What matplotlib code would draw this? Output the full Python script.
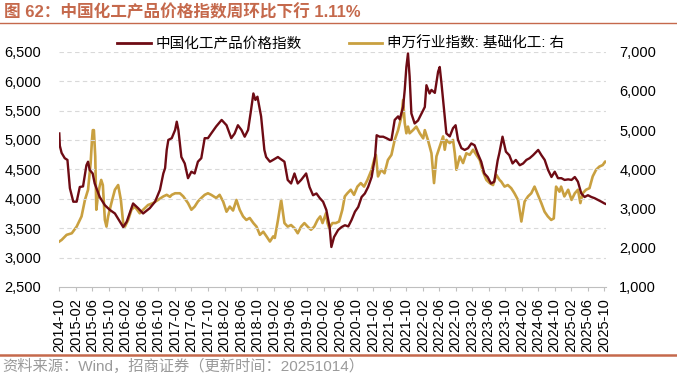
import matplotlib
matplotlib.use("Agg")
import matplotlib.pyplot as plt
import matplotlib.dates as mdates
from matplotlib.ticker import FuncFormatter
from matplotlib.lines import Line2D
import pandas as pd

plt.rcParams['font.family'] = ['Liberation Sans', 'Noto Sans CJK SC', 'DejaVu Sans']

# 中国化工产品价格指数（左轴）
chem_dates = [
    '2014-10-01', '2014-10-05', '2014-10-18', '2014-11-10', '2014-11-30', '2014-12-18',
    '2015-01-12', '2015-02-06', '2015-03-01', '2015-03-25', '2015-04-19', '2015-05-01',
    '2015-05-13', '2015-06-04', '2015-06-19', '2015-07-26', '2015-09-02', '2015-10-09',
    '2015-11-15', '2015-12-22', '2016-01-15', '2016-02-10', '2016-03-28', '2016-05-04',
    '2016-06-10', '2016-07-29', '2016-09-06', '2016-10-12', '2016-11-06', '2016-11-19',
    '2016-12-01', '2016-12-13', '2017-01-07', '2017-02-01', '2017-02-13', '2017-02-25',
    '2017-03-19', '2017-04-13', '2017-05-07', '2017-06-01', '2017-06-25', '2017-07-19',
    '2017-08-13', '2017-09-07', '2017-10-01', '2017-10-25', '2017-12-01', '2018-01-10',
    '2018-02-15', '2018-03-22', '2018-04-16', '2018-05-10', '2018-06-05', '2018-06-29',
    '2018-07-24', '2018-08-13', '2018-09-01', '2018-09-16', '2018-10-01', '2018-10-28',
    '2018-11-21', '2018-12-04', '2019-01-01', '2019-01-24', '2019-03-01', '2019-03-12',
    '2019-04-18', '2019-05-12', '2019-06-06', '2019-07-01', '2019-07-25', '2019-08-19',
    '2019-09-25', '2019-10-20', '2019-11-15', '2019-12-10', '2020-01-04', '2020-01-28',
    '2020-02-21', '2020-03-16', '2020-03-29', '2020-04-18', '2020-05-18', '2020-06-13',
    '2020-07-07', '2020-08-01', '2020-08-25', '2020-09-19', '2020-10-13', '2020-11-07',
    '2020-12-01', '2020-12-25', '2021-01-20', '2021-02-14', '2021-02-26', '2021-03-20',
    '2021-04-15', '2021-05-09', '2021-06-03', '2021-06-15', '2021-07-09', '2021-08-03',
    '2021-08-15', '2021-09-09', '2021-09-21', '2021-10-03', '2021-10-15', '2021-10-27',
    '2021-11-09', '2021-12-03', '2021-12-28', '2022-01-23', '2022-02-16', '2022-02-28',
    '2022-03-23', '2022-04-06', '2022-05-01', '2022-05-25', '2022-06-06', '2022-06-19',
    '2022-07-13', '2022-07-25', '2022-08-19', '2022-09-12', '2022-10-01', '2022-10-19',
    '2022-11-13', '2022-12-07', '2023-01-01', '2023-01-25', '2023-02-18', '2023-03-13',
    '2023-04-08', '2023-05-01', '2023-05-25', '2023-06-19', '2023-07-13', '2023-08-07',
    '2023-08-19', '2023-09-12', '2023-10-07', '2023-11-01', '2023-11-25', '2023-12-19',
    '2024-01-17', '2024-02-11', '2024-03-06', '2024-03-30', '2024-04-24', '2024-05-19',
    '2024-06-01', '2024-06-25', '2024-07-19', '2024-08-13', '2024-09-07', '2024-10-01',
    '2024-10-25', '2024-11-19', '2024-12-13', '2025-01-08', '2025-02-02', '2025-02-26',
    '2025-03-21', '2025-04-15', '2025-05-09', '2025-06-03', '2025-06-28', '2025-07-22',
    '2025-08-16', '2025-09-10', '2025-10-03', '2025-10-14',
]
chem_values = [
    5110, 4900, 4780, 4690, 4660, 4180,
    3950, 3950, 4200, 4210, 4570, 4630,
    4490, 4430, 4260, 4030, 3890, 3810,
    3750, 3610, 3520, 3610, 3920, 3840,
    3750, 3840, 3950, 4150, 4430, 4520,
    4830, 5000, 5030, 5170, 5310, 5170,
    4710, 4600, 4350, 4460, 4430, 4630,
    4690, 5030, 5030, 5110, 5230, 5340,
    5250, 5030, 5110, 5250, 5170, 5055,
    5170, 5480, 5790, 5680, 5735, 5400,
    4830, 4710, 4630, 4660, 4710, 4690,
    4630, 4320, 4260, 4430, 4260, 4320,
    4430, 4200, 4060, 4090, 4010, 3950,
    3810, 3520, 3180, 3350, 3470, 3520,
    3550, 3530, 3640, 3780, 3860, 4030,
    4090, 4200, 4370, 4710, 5080, 5055,
    5055, 5030, 5000, 5000, 5340, 5400,
    5350, 5560, 5850, 6240, 6470, 6080,
    5450, 5280, 5330, 5450, 5560, 5930,
    5790, 5850, 5800, 6160, 6240, 5960,
    5400, 5110, 5060, 5200, 5250, 5000,
    4860, 4830, 4860, 4940, 4910, 4770,
    4630, 4430, 4370, 4260, 4290, 4650,
    4770, 5055, 4800, 4740, 4600, 4660,
    4570, 4600, 4660, 4690, 4740, 4800,
    4830, 4740, 4660, 4490, 4370, 4460,
    4350, 4350, 4320, 4330, 4320, 4370,
    4290, 4090, 4030, 4060, 4030, 4010,
    3980, 3950, 3920, 3910,
]

# 申万行业指数：基础化工（右轴）
sw_dates = [
    '2014-10-01', '2014-10-18', '2014-11-24', '2015-01-01', '2015-02-06', '2015-03-14',
    '2015-04-08', '2015-05-01', '2015-05-20', '2015-05-30', '2015-06-05', '2015-06-13',
    '2015-06-23', '2015-07-01', '2015-07-12', '2015-07-25', '2015-08-06', '2015-08-18',
    '2015-09-02', '2015-09-14', '2015-09-26', '2015-10-20', '2015-11-15', '2015-12-09',
    '2015-12-29', '2016-01-15', '2016-01-28', '2016-02-21', '2016-03-16', '2016-04-10',
    '2016-05-16', '2016-06-10', '2016-07-16', '2016-08-22', '2016-09-28', '2016-11-06',
    '2016-12-01', '2016-12-25', '2017-01-07', '2017-02-01', '2017-03-08', '2017-04-02',
    '2017-05-07', '2017-06-01', '2017-06-25', '2017-07-19', '2017-08-13', '2017-09-07',
    '2017-10-01', '2017-10-25', '2017-12-01', '2017-12-26', '2018-01-21', '2018-02-15',
    '2018-03-11', '2018-04-04', '2018-04-29', '2018-05-23', '2018-06-17', '2018-07-11',
    '2018-08-05', '2018-09-01', '2018-09-24', '2018-10-19', '2018-11-13', '2018-12-07',
    '2019-01-01', '2019-01-25', '2019-02-06', '2019-03-01', '2019-03-25', '2019-04-18',
    '2019-05-12', '2019-06-06', '2019-07-01', '2019-07-25', '2019-08-19', '2019-09-12',
    '2019-10-06', '2019-10-31', '2019-11-24', '2019-12-18', '2020-01-07', '2020-01-24',
    '2020-02-18', '2020-03-01', '2020-03-13', '2020-04-06', '2020-05-01', '2020-05-25',
    '2020-06-18', '2020-07-06', '2020-07-25', '2020-08-19', '2020-09-12', '2020-10-07',
    '2020-11-01', '2020-11-25', '2020-12-20', '2021-01-20', '2021-02-07', '2021-02-20',
    '2021-03-08', '2021-04-01', '2021-04-25', '2021-05-20', '2021-06-15', '2021-07-09',
    '2021-08-03', '2021-08-27', '2021-09-09', '2021-09-21', '2021-10-03', '2021-10-15',
    '2021-10-27', '2021-11-21', '2021-12-15', '2022-01-10', '2022-02-04', '2022-02-16',
    '2022-03-11', '2022-04-06', '2022-04-25', '2022-05-13', '2022-06-06', '2022-07-01',
    '2022-07-13', '2022-07-25', '2022-08-19', '2022-09-12', '2022-09-25', '2022-10-07',
    '2022-11-01', '2022-11-25', '2022-12-19', '2023-01-13', '2023-02-07', '2023-03-03',
    '2023-03-28', '2023-04-21', '2023-05-16', '2023-06-09', '2023-07-04', '2023-07-28',
    '2023-08-21', '2023-09-02', '2023-09-27', '2023-10-21', '2023-11-15', '2023-12-09',
    '2024-01-04', '2024-01-29', '2024-02-22', '2024-03-18', '2024-04-11', '2024-05-05',
    '2024-05-30', '2024-06-24', '2024-07-18', '2024-08-11', '2024-09-05', '2024-09-24',
    '2024-10-11', '2024-11-05', '2024-11-17', '2024-12-11', '2025-01-08', '2025-02-02',
    '2025-02-26', '2025-03-21', '2025-04-08', '2025-04-25', '2025-05-20', '2025-06-14',
    '2025-07-08', '2025-08-02', '2025-08-26', '2025-09-20', '2025-10-08', '2025-10-14',
]
sw_values = [
    2160, 2200, 2330, 2370, 2540, 2800,
    3220, 3480, 4160, 4750, 5000, 5000,
    4330, 2970, 3300, 3560, 3730, 3600,
    2710, 2540, 2800, 3140, 3480, 3600,
    3220, 2630, 2540, 2710, 2970, 3050,
    2880, 2970, 3090, 3140, 3220, 3310,
    3350, 3300, 3350, 3390, 3390, 3310,
    3140, 2970, 3050, 3180, 3270, 3350,
    3390, 3350, 3270, 3350, 3180, 2920,
    3050, 2950, 3220, 2970, 2800, 2710,
    2760, 2630, 2540, 2330, 2410, 2290,
    2160, 2290, 2250, 2700, 3220, 2630,
    2540, 2580, 2500, 2370, 2540, 2630,
    2540, 2460, 2540, 2710, 2800, 2630,
    2880, 2630, 2500, 2630, 2630, 2670,
    2970, 3310, 3390, 3480, 3350, 3560,
    3650, 3560, 3730, 3990, 4240, 4370,
    3820, 3990, 3900, 4240, 4370, 4750,
    5000, 5340, 5770, 5180, 4920, 5090,
    4920, 5000, 5090, 4920, 4790, 5000,
    4750, 4410, 3650, 4330, 4580, 4840,
    4500, 4750, 4670, 4750, 4410, 3990,
    4330, 4160, 4410, 4370, 4500, 4370,
    4240, 3940, 3730, 3650, 3600, 3860,
    3730, 3690, 3560, 3600, 3520, 3390,
    3220, 2670, 3180, 3310, 3390, 3560,
    3350, 3140, 2920, 2800, 2710, 2750,
    3560, 3430, 3560, 3310, 3480, 3220,
    3390, 3480, 3140, 3390, 3480, 3520,
    3820, 3990, 4070, 4110, 4200, 4190,
]

tick_months = pd.date_range('2014-10-01', '2025-10-01', freq='4MS')

title_text = '图 62：中国化工产品价格指数周环比下行 1.11%'
source_text = '资料来源：Wind，招商证券（更新时间：20251014）'
chem_label = '中国化工产品价格指数'
sw_label = '申万行业指数: 基础化工: 右'

red = '#6E0B14'
gold = '#C9A040'
accent = '#C5694C'

fig = plt.figure(figsize=(6.77, 3.74), dpi=100)
ax = fig.add_axes([59.3 / 677, 1 - 287 / 374, (606 - 59.3) / 677, (287 - 51.7) / 374])
ax2 = ax.twinx()

ax.plot(pd.to_datetime(chem_dates), chem_values, color=red, lw=1.7, zorder=3)
ax2.plot(pd.to_datetime(sw_dates), sw_values, color=gold, lw=1.9, zorder=2)
ax.set_zorder(ax2.get_zorder() + 1)
ax.patch.set_visible(False)

ax.set_xlim(pd.Timestamp('2014-10-01'), pd.Timestamp('2025-10-14'))
ax.set_ylim(2500, 6500)
ax2.set_ylim(1000, 7000)
ax.set_yticks(range(2500, 6501, 500))
ax2.set_yticks(range(1000, 7001, 1000))
fmt = FuncFormatter(lambda v, p: f'{int(v):,}')
ax.yaxis.set_major_formatter(fmt)
ax2.yaxis.set_major_formatter(fmt)

ax.set_xticks(tick_months)
ax.xaxis.set_major_formatter(mdates.DateFormatter('%Y-%m'))
for lbl in ax.get_xticklabels():
    lbl.set_rotation(90)

for y in range(3000, 6501, 500):
    ax.axhline(y, color='#D9D9D9', lw=0.8, ls=(0, (4, 3)), zorder=0)

for a in (ax, ax2):
    for s in a.spines.values():
        s.set_visible(False)
ax.spines['bottom'].set_visible(True)
ax.spines['bottom'].set_color('#BFBFBF')

# pads are in points (1 px = 0.72 pt at 100 dpi)
ax.tick_params(axis='x', direction='out', length=3, color='#BFBFBF', labelsize=10.5, pad=5)
ax.tick_params(axis='y', length=0, labelsize=10.5, pad=13)
ax2.tick_params(axis='y', length=0, labelsize=10.5, pad=9.5)

handles = [Line2D([], [], color=red, lw=2), Line2D([], [], color=gold, lw=2)]
fig.legend(handles, [chem_label, sw_label], loc='center left',
           bbox_to_anchor=(117 / 677, 1 - 44 / 374), ncol=2, frameon=False,
           fontsize=10.5, handlelength=2.3, handletextpad=0.35,
           columnspacing=3.2, borderpad=0, borderaxespad=0)

fig.text(4 / 677, 1 - 12 / 374, title_text, color=accent, fontsize=12,
         fontweight='bold', va='center', ha='left')
fig.add_artist(Line2D([0, 1], [1 - 23 / 374, 1 - 23 / 374], color=accent, lw=1.0))
fig.add_artist(Line2D([0, 1], [1 - 355 / 374, 1 - 355 / 374], color=accent, lw=1.8))
fig.text(2 / 677, 1 - 366 / 374, source_text, color='#9A9A9A', fontsize=11,
         va='center', ha='left')

fig.savefig('out.png', dpi=100)
